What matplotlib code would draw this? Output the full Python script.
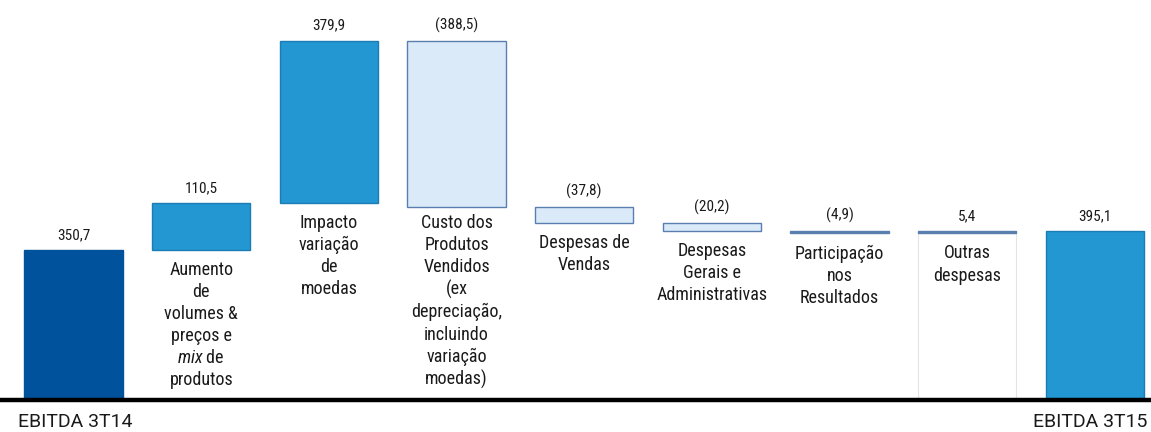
import matplotlib
matplotlib.use("Agg")
import matplotlib.pyplot as plt

FONT = "Roboto Condensed"
plt.rcParams["font.family"] = [FONT, "DejaVu Sans"]
plt.rcParams["mathtext.fontset"] = "custom"
plt.rcParams["mathtext.rm"] = FONT
plt.rcParams["mathtext.it"] = FONT + ":italic"

# ---- data ----
categories = [
    "EBITDA 3T14",
    "Aumento\nde\nvolumes &\npreços e\n$\\mathit{mix}$ de\nprodutos",
    "Impacto\nvariação\nde\nmoedas",
    "Custo dos\nProdutos\nVendidos\n(ex\ndepreciação,\nincluindo\nvariação\nmoedas)",
    "Despesas de\nVendas",
    "Despesas\nGerais e\nAdministrativas",
    "Participação\nnos\nResultados",
    "Outras\ndespesas",
    "EBITDA 3T15",
]
values = [350.7, 110.5, 379.9, -388.5, -37.8, -20.2, -4.9, 5.4, 395.1]
value_labels = ["350,7", "110,5", "379,9", "(388,5)", "(37,8)", "(20,2)", "(4,9)", "5,4", "395,1"]
is_total = [True, False, False, False, False, False, False, False, True]

DARK = "#00529C"
MED = "#2297D1"
MED_EDGE = "#1B7DB4"
LIGHT = "#DAEAF9"
LIGHT_EDGE = "#5A7FAE"
TXT = "#1a1a1a"

fig = plt.figure(figsize=(11.51, 4.32), dpi=100)
ax = fig.add_axes([0, 32 / 432, 1, 400 / 432])
ax.set_xlim(-0.576, 8.44)
ax.set_ylim(0, 936)
ax.axis("off")

W = 0.77
px = 936 / 400.0          # data units per pixel (y)
pxx = 9.016 / 1151.0      # data units per pixel (x)

running = 0.0
for i, (cat, v, lab, tot) in enumerate(zip(categories, values, value_labels, is_total)):
    if tot:
        bottom, height = 0.0, v
        running = v
        face = DARK if i == 0 else MED
        edge = DARK if i == 0 else MED_EDGE
    else:
        start = running
        end = running + v
        bottom, height = min(start, end), abs(v)
        running = end
        if v > 0:
            face, edge = MED, MED_EDGE
        else:
            face, edge = LIGHT, LIGHT_EDGE
        if abs(v) < 8:
            face, edge = LIGHT_EDGE, LIGHT_EDGE
    if i == 7:
        # white box under the small bar
        ax.bar(i, bottom, width=W, bottom=0, color="white", edgecolor="#e4e4e4", linewidth=0.8, zorder=1)
    ax.bar(i, height, width=W, bottom=bottom, color=face, edgecolor=edge, linewidth=1.0, zorder=2)
    top = bottom + height
    ax.text(i, top + 8 * px, lab, ha="center", va="bottom", fontsize=11, color=TXT)
    if tot:
        continue
    off = 7 if v < -100 else 11
    ax.text(i, bottom - off * px, cat, ha="center", va="top", fontsize=13, color=TXT,
            linespacing=1.29)

# baseline
ax.axhline(0, color="black", linewidth=3.2, zorder=5, clip_on=False)

# total labels below axis
for i, dx in ((0, 2), (8, -5)):
    ax.text(i + dx * pxx, -13 * px, categories[i], ha="center", va="top", fontsize=14, color=TXT,
            family=["Roboto", "DejaVu Sans"], clip_on=False)

fig.savefig("out.png", dpi=100)
